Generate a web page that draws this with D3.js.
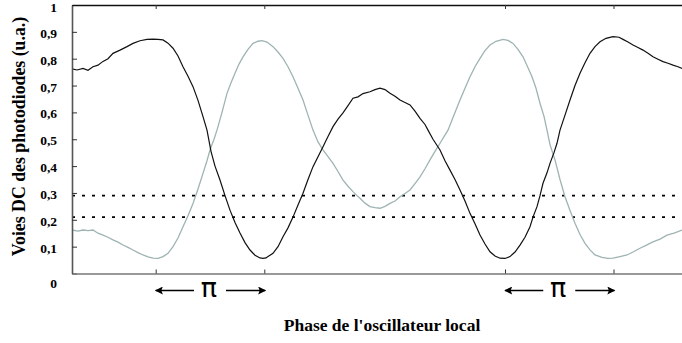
<!DOCTYPE html>
<html>
<head>
<meta charset="utf-8">
<script src="https://cdn.jsdelivr.net/npm/d3@7"></script>
<style>
  html, body { margin: 0; padding: 0; background: #fff; }
  svg { display: block; }
  text { font-family: "Liberation Serif", "Times New Roman", serif; font-weight: bold; fill: #000; }
</style>
</head>
<body>
<svg id="chart" width="682" height="343"></svg>
<script>
// Phase of the local oscillator (arbitrary sample units) and DC levels (a.u.)
const blackPhase = [0,5,11,16,21,26,31,36,41,48,55,61,68,75,81,86,91,96,101,106,111,116,121,126,131,135,139,143,148,153,158,163,168,173,178,183,188,191,194,196,201,206,211,216,221,226,231,236,241,246,251,256,261,266,271,276,281,286,291,298,303,308,313,318,323,328,333,338,343,348,353,356,361,368,373,378,383,388,393,398,403,408,413,418,423,428,433,438,443,448,453,458,461,465,468,471,475,478,482,485,488,493,498,503,508,513,518,523,528,534,541,547,551,556,561,566,571,576,581,586,591,596,601,606,610];
const blackLevel = [0.762,0.758,0.764,0.757,0.770,0.776,0.790,0.800,0.820,0.832,0.845,0.857,0.867,0.872,0.873,0.872,0.870,0.858,0.839,0.810,0.770,0.735,0.696,0.645,0.584,0.534,0.455,0.400,0.348,0.290,0.236,0.190,0.151,0.115,0.0875,0.068,0.058,0.056,0.058,0.063,0.075,0.100,0.137,0.170,0.210,0.255,0.299,0.350,0.398,0.435,0.472,0.510,0.547,0.575,0.598,0.625,0.653,0.658,0.670,0.677,0.685,0.690,0.685,0.671,0.660,0.646,0.637,0.628,0.605,0.578,0.555,0.534,0.500,0.460,0.420,0.385,0.350,0.311,0.270,0.224,0.185,0.143,0.110,0.081,0.065,0.057,0.056,0.063,0.080,0.106,0.135,0.174,0.210,0.249,0.290,0.336,0.375,0.410,0.450,0.485,0.534,0.590,0.646,0.700,0.746,0.785,0.820,0.845,0.863,0.876,0.882,0.880,0.872,0.862,0.851,0.842,0.832,0.820,0.807,0.798,0.789,0.783,0.776,0.770,0.764];

const grayPhase = [0,6,11,16,21,26,31,36,41,46,51,56,61,66,71,76,81,86,91,96,101,106,111,116,121,126,131,135,138,142,145,150,155,159,163,167,171,176,181,186,190,195,201,206,211,216,221,226,231,236,241,246,251,256,261,266,271,276,281,285,288,293,298,303,308,313,318,323,328,333,338,343,348,353,358,363,368,372,376,382,388,393,398,403,408,413,418,424,431,436,441,446,451,455,460,464,468,472,475,478,483,488,493,498,503,508,513,518,523,530,536,541,548,555,561,568,574,581,588,595,602,610];
const grayLevel = [0.162,0.158,0.162,0.160,0.162,0.150,0.143,0.135,0.125,0.117,0.106,0.097,0.0875,0.078,0.069,0.062,0.057,0.056,0.063,0.075,0.100,0.132,0.174,0.215,0.261,0.315,0.373,0.420,0.460,0.500,0.534,0.600,0.671,0.710,0.746,0.780,0.807,0.835,0.857,0.865,0.867,0.862,0.845,0.825,0.801,0.770,0.733,0.690,0.646,0.590,0.534,0.490,0.460,0.435,0.410,0.380,0.348,0.325,0.305,0.290,0.280,0.262,0.249,0.245,0.243,0.250,0.261,0.270,0.286,0.298,0.311,0.335,0.360,0.390,0.423,0.455,0.485,0.510,0.534,0.590,0.646,0.690,0.733,0.770,0.801,0.830,0.851,0.865,0.872,0.868,0.857,0.835,0.807,0.775,0.733,0.690,0.634,0.585,0.534,0.480,0.423,0.350,0.286,0.235,0.187,0.145,0.112,0.088,0.069,0.060,0.056,0.057,0.063,0.069,0.080,0.094,0.105,0.118,0.128,0.143,0.150,0.162];

// Horizontal reference levels (dotted)
const refLevels = [0.29, 0.21];

// Axis ticks
const yTicks = [0, 0.1, 0.2, 0.3, 0.4, 0.5, 0.6, 0.7, 0.8, 0.9, 1];
const yTickLabels = ["0", "0,1", "0,2", "0,3", "0,4", "0,5", "0,6", "0,7", "0,8", "0,9", "1"];
const xTicks = [83.7, 192.3, 433, 541.5];

// Half-period markers between pairs of ticks
const piSpans = [[83.7, 192.3], [433, 541.5]];
const piLabel = "π";

const yTitle = "Voies DC des photodiodes (u.a.)";
const xTitle = "Phase de l'oscillateur local";

const W = 682, H = 343;
const margin = { top: 5, right: 0, bottom: 69.5, left: 72 };

const svg = d3.select("#chart");

const x = d3.scaleLinear().domain([0, 610]).range([margin.left, W - margin.right]);
const y = d3.scaleLinear().domain([0, 1]).range([H - margin.bottom, margin.top]);

// Dotted reference levels
svg.append("g")
  .selectAll("line")
  .data(refLevels)
  .join("line")
  .attr("x1", x(0)).attr("x2", x(610))
  .attr("y1", d => y(d)).attr("y2", d => y(d))
  .attr("stroke", "#000")
  .attr("stroke-width", 1.6)
  .attr("stroke-dasharray", "3,7");

// Curves
const line = (phase, level) => d3.line()
  .x((d, i) => x(phase[i]))
  .y((d, i) => y(level[i]))
  .curve(d3.curveLinear)(level);

svg.append("path")
  .attr("d", line(grayPhase, grayLevel))
  .attr("fill", "none")
  .attr("stroke", "#9fb3b3")
  .attr("stroke-width", 1.3);

svg.append("path")
  .attr("d", line(blackPhase, blackLevel))
  .attr("fill", "none")
  .attr("stroke", "#111")
  .attr("stroke-width", 1.2);

// Left axis with inward ticks
const yAxis = d3.axisLeft(y)
  .tickValues(yTicks)
  .tickFormat((d, i) => yTickLabels[i])
  .tickSize(-5)
  .tickSizeOuter(0)
  .tickPadding(15);

const gy = svg.append("g")
  .attr("transform", `translate(${margin.left},0)`)
  .call(yAxis);
gy.select(".domain").attr("stroke", "#555").attr("stroke-width", 1.6);
gy.selectAll(".tick line").attr("stroke", "#333").attr("stroke-width", 1);
// The end labels sit a little lower than their ticks: "0" below the base line,
// "1" just under the top frame.
gy.selectAll(".tick text")
  .attr("font-family", "Liberation Serif, serif")
  .attr("font-weight", "bold")
  .attr("font-size", 13.5)
  .attr("fill", "#000")
  .attr("y", d => d === 0 ? 9.5 : d === 1 ? 2.5 : 1.2);

// Bottom axis (ticks only, no labels)
const gx = svg.append("g")
  .attr("transform", `translate(0,${y(0)})`)
  .call(d3.axisBottom(x).tickValues(xTicks).tickSize(-4).tickSizeOuter(0).tickFormat(""));
gx.select(".domain").attr("stroke", "#777").attr("stroke-width", 1.5);
gx.selectAll(".tick line").attr("stroke", "#333");

// Top frame line with downward ticks
const gt = svg.append("g")
  .attr("transform", `translate(0,${y(1)})`)
  .call(d3.axisTop(x).tickValues(xTicks).tickSize(-4).tickSizeOuter(0).tickFormat(""));
gt.select(".domain").attr("stroke", "#111").attr("stroke-width", 1.5);
gt.selectAll(".tick line").attr("stroke", "#333");

// Arrow heads
const defs = svg.append("defs");
defs.append("marker")
  .attr("id", "head")
  .attr("viewBox", "0 0 10 10")
  .attr("refX", 9).attr("refY", 5)
  .attr("markerWidth", 10).attr("markerHeight", 8)
  .attr("markerUnits", "userSpaceOnUse")
  .attr("orient", "auto")
  .append("path")
  .attr("d", "M0,0L10,5L0,10L2,5Z")
  .attr("fill", "#000");

const arrowY = 290.5;
const gap = 16;
const piGroups = svg.append("g")
  .selectAll("g")
  .data(piSpans)
  .join("g");

piGroups.append("line")
  .attr("x1", d => (x(d[0]) + x(d[1])) / 2 - gap)
  .attr("x2", d => x(d[0]))
  .attr("y1", arrowY).attr("y2", arrowY)
  .attr("stroke", "#000").attr("stroke-width", 1.5)
  .attr("marker-end", "url(#head)");

piGroups.append("line")
  .attr("x1", d => (x(d[0]) + x(d[1])) / 2 + gap)
  .attr("x2", d => x(d[1]) + 1)
  .attr("y1", arrowY).attr("y2", arrowY)
  .attr("stroke", "#000").attr("stroke-width", 1.5)
  .attr("marker-end", "url(#head)");

piGroups.append("text")
  .attr("x", d => (x(d[0]) + x(d[1])) / 2 - 1)
  .attr("y", 297)
  .attr("text-anchor", "middle")
  .style("font-family", "'DejaVu Sans', sans-serif")
  .style("font-weight", "normal")
  .style("font-size", "27px")
  .text(piLabel);

// Axis titles
svg.append("text")
  .attr("transform", `translate(25,136.5) rotate(-90)`)
  .attr("text-anchor", "middle")
  .style("font-size", "17.8px")
  .text(yTitle);

svg.append("text")
  .attr("x", 382)
  .attr("y", 331)
  .attr("text-anchor", "middle")
  .style("font-size", "17.5px")
  .text(xTitle);
</script>
</body>
</html>
